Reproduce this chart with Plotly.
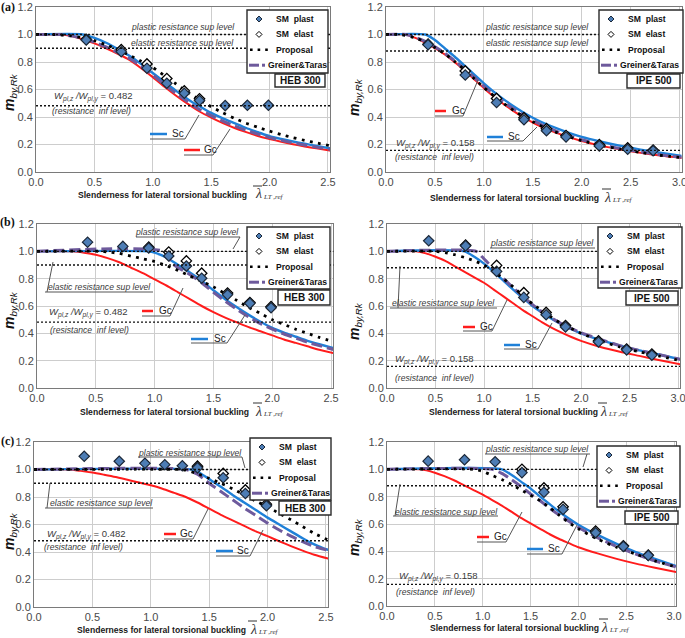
import plotly.graph_objects as go

# ======================= DATA =======================
# x positions of the SM (shell model) results
HEB_X = [0.43, 0.73, 0.95, 1.12, 1.27, 1.40, 1.62, 1.81, 1.99]
IPE_X = [0.43, 0.81, 1.13, 1.41, 1.64, 1.84, 2.18, 2.47, 2.73]

A_HEB_PLAST = [0.96, 0.875, 0.755, 0.645, 0.573, 0.52, 0.483, 0.485, 0.485]
A_HEB_ELAST = [0.965, 0.89, 0.786, 0.68, 0.59, 0.532, None, None, None]
A_IPE_PLAST = [0.925, 0.705, 0.505, 0.38, 0.30, 0.255, 0.19, 0.165, 0.155]
A_IPE_ELAST = [0.93, 0.735, 0.535, 0.395, 0.315, 0.265, 0.20, 0.175, 0.16]
B_HEB_PLAST = [1.067, 1.036, 1.024, 0.966, 0.892, 0.803, 0.683, 0.619, 0.587]
B_HEB_ELAST = [None, None, 1.03, 0.995, 0.93, 0.84, 0.695, 0.625, 0.595]
B_IPE_PLAST = [1.077, 1.04, 0.853, 0.663, 0.536, 0.447, 0.337, 0.279, 0.24]
B_IPE_ELAST = [None, 1.045, 0.897, 0.697, 0.553, 0.457, 0.344, 0.285, 0.248]
C_HEB_PLAST = [1.096, 1.06, 1.045, 1.035, 1.027, 1.012, 0.94, 0.825, 0.736]
C_HEB_ELAST = [None, None, None, None, None, 1.024, 0.971, 0.851, 0.748]
C_IPE_PLAST = [1.06, 1.07, 1.055, 0.976, 0.833, 0.707, 0.536, 0.436, 0.37]
C_IPE_ELAST = [None, None, None, 1.0, 0.864, 0.726, 0.548, 0.44, 0.372]

# ---- row (a) HEB 300
A_HEB_SC_X = [0, 0.4, 0.5, 0.6, 0.7, 0.8, 0.9, 1.0, 1.1, 1.2, 1.3, 1.4, 1.5, 1.6, 1.7, 1.8, 1.9, 2.0, 2.1, 2.2, 2.3, 2.4, 2.55]
A_HEB_SC_Y = [1.0, 1.0, 0.975, 0.94, 0.895, 0.845, 0.785, 0.72, 0.655, 0.59, 0.53, 0.478, 0.43, 0.39, 0.355, 0.32, 0.29, 0.26, 0.24, 0.222, 0.206, 0.19, 0.168]
A_HEB_GC_X = [0, 0.2, 0.3, 0.4, 0.5, 0.6, 0.7, 0.8, 0.9, 1.0, 1.1, 1.2, 1.3, 1.4, 1.5, 1.6, 1.7, 1.8, 1.9, 2.0, 2.1, 2.2, 2.3, 2.4, 2.55]
A_HEB_GC_Y = [1.0, 1.0, 0.99, 0.965, 0.935, 0.9, 0.86, 0.815, 0.755, 0.69, 0.62, 0.555, 0.495, 0.44, 0.395, 0.355, 0.32, 0.29, 0.262, 0.24, 0.22, 0.202, 0.186, 0.172, 0.152]
A_HEB_GT_X = A_HEB_GC_X
A_HEB_GT_Y = [1.0, 1.0, 0.99, 0.97, 0.945, 0.91, 0.87, 0.825, 0.77, 0.705, 0.635, 0.57, 0.51, 0.455, 0.41, 0.37, 0.335, 0.303, 0.275, 0.25, 0.23, 0.212, 0.196, 0.181, 0.16]
A_HEB_PR_X = [0, 0.15, 0.3, 0.4, 0.5, 0.6, 0.7, 0.8, 0.9, 1.0, 1.1, 1.2, 1.3, 1.4, 1.5, 1.6, 1.7, 1.8, 1.9, 2.0, 2.1, 2.2, 2.3, 2.4, 2.55]
A_HEB_PR_Y = [1.0, 1.0, 0.99, 0.975, 0.955, 0.925, 0.89, 0.85, 0.805, 0.76, 0.7, 0.64, 0.58, 0.525, 0.475, 0.43, 0.39, 0.355, 0.325, 0.297, 0.272, 0.25, 0.23, 0.212, 0.185]

# ---- row (a) IPE 500
A_IPE_SC_X = [0, 0.4, 0.5, 0.6, 0.7, 0.8, 0.9, 1.0, 1.1, 1.2, 1.3, 1.4, 1.5, 1.6, 1.8, 2.0, 2.2, 2.4, 2.6, 2.8, 3.05]
A_IPE_SC_Y = [1.0, 1.0, 0.96, 0.9, 0.84, 0.775, 0.71, 0.645, 0.585, 0.53, 0.48, 0.435, 0.395, 0.36, 0.303, 0.255, 0.22, 0.19, 0.163, 0.14, 0.115]
A_IPE_GC_X = [0, 0.2, 0.3, 0.4, 0.5, 0.6, 0.7, 0.8, 0.9, 1.0, 1.1, 1.2, 1.3, 1.4, 1.5, 1.6, 1.8, 2.0, 2.2, 2.4, 2.6, 2.8, 3.05]
A_IPE_GC_Y = [1.0, 1.0, 0.975, 0.94, 0.9, 0.855, 0.8, 0.74, 0.675, 0.61, 0.55, 0.495, 0.445, 0.4, 0.36, 0.325, 0.27, 0.225, 0.19, 0.163, 0.14, 0.12, 0.1]
A_IPE_GT_X = A_IPE_GC_X
A_IPE_GT_Y = [1.0, 1.0, 0.98, 0.95, 0.91, 0.865, 0.81, 0.75, 0.69, 0.625, 0.565, 0.51, 0.46, 0.415, 0.375, 0.34, 0.28, 0.235, 0.2, 0.17, 0.146, 0.126, 0.105]
A_IPE_PR_X = [0, 0.15, 0.3, 0.4, 0.5, 0.6, 0.7, 0.8, 0.9, 1.0, 1.1, 1.2, 1.3, 1.4, 1.5, 1.6, 1.8, 2.0, 2.2, 2.4, 2.6, 2.8, 3.05]
A_IPE_PR_Y = [1.0, 1.0, 0.975, 0.945, 0.905, 0.86, 0.805, 0.745, 0.68, 0.615, 0.555, 0.5, 0.45, 0.405, 0.365, 0.33, 0.272, 0.228, 0.193, 0.165, 0.142, 0.122, 0.102]

# ---- row (b) HEB 300
B_HEB_SC_X = [0, 0.95, 1.0, 1.1, 1.2, 1.3, 1.4, 1.5, 1.6, 1.7, 1.8, 1.9, 2.0, 2.1, 2.2, 2.3, 2.4, 2.55]
B_HEB_SC_Y = [1.0, 1.0, 0.99, 0.955, 0.9, 0.845, 0.785, 0.715, 0.65, 0.59, 0.535, 0.485, 0.44, 0.405, 0.375, 0.345, 0.32, 0.285]
B_HEB_GC_X = [0, 0.3, 0.4, 0.5, 0.6, 0.7, 0.8, 0.9, 1.0, 1.1, 1.2, 1.3, 1.4, 1.5, 1.6, 1.7, 1.8, 1.9, 2.0, 2.1, 2.2, 2.3, 2.4, 2.55]
B_HEB_GC_Y = [1.0, 1.0, 0.99, 0.975, 0.95, 0.92, 0.88, 0.84, 0.795, 0.75, 0.7, 0.65, 0.6, 0.555, 0.515, 0.48, 0.445, 0.415, 0.385, 0.355, 0.33, 0.305, 0.28, 0.25]
B_HEB_GT_X = [0, 1.08, 1.15, 1.2, 1.3, 1.4, 1.5, 1.6, 1.7, 1.8, 1.9, 2.0, 2.1, 2.2, 2.3, 2.4, 2.55]
B_HEB_GT_Y = [1.0, 1.0, 0.91, 0.88, 0.83, 0.77, 0.7, 0.635, 0.575, 0.52, 0.47, 0.43, 0.395, 0.365, 0.335, 0.31, 0.275]
B_HEB_PR_X = [0, 0.55, 0.6, 0.7, 0.8, 0.9, 1.0, 1.1, 1.2, 1.3, 1.4, 1.5, 1.6, 1.7, 1.8, 1.9, 2.0, 2.1, 2.2, 2.3, 2.4, 2.55]
B_HEB_PR_Y = [1.0, 1.0, 0.995, 0.985, 0.965, 0.945, 0.925, 0.895, 0.86, 0.82, 0.78, 0.74, 0.69, 0.64, 0.59, 0.545, 0.5, 0.465, 0.43, 0.4, 0.37, 0.33]

# ---- row (b) IPE 500
B_IPE_SC_X = [0, 0.8, 0.9, 1.0, 1.1, 1.2, 1.3, 1.4, 1.5, 1.6, 1.7, 1.8, 1.9, 2.0, 2.2, 2.4, 2.6, 2.8, 3.05]
B_IPE_SC_Y = [1.0, 1.0, 0.96, 0.91, 0.85, 0.785, 0.72, 0.66, 0.6, 0.55, 0.505, 0.465, 0.43, 0.4, 0.35, 0.31, 0.275, 0.245, 0.205]
B_IPE_GC_X = [0, 0.3, 0.4, 0.5, 0.6, 0.7, 0.8, 0.9, 1.0, 1.1, 1.2, 1.3, 1.4, 1.5, 1.6, 1.7, 1.8, 1.9, 2.0, 2.2, 2.4, 2.6, 2.8, 3.05]
B_IPE_GC_Y = [1.0, 1.0, 0.985, 0.96, 0.93, 0.89, 0.85, 0.81, 0.77, 0.72, 0.67, 0.62, 0.57, 0.525, 0.48, 0.44, 0.405, 0.373, 0.345, 0.3, 0.265, 0.235, 0.205, 0.17]
B_IPE_GT_X = [0, 0.92, 0.98, 1.1, 1.2, 1.3, 1.4, 1.5, 1.6, 1.7, 1.8, 1.9, 2.0, 2.2, 2.4, 2.6, 2.8, 3.05]
B_IPE_GT_Y = [1.0, 1.0, 0.96, 0.87, 0.8, 0.735, 0.67, 0.61, 0.555, 0.51, 0.47, 0.435, 0.405, 0.355, 0.31, 0.275, 0.245, 0.205]
B_IPE_PR_X = [0, 0.5, 0.6, 0.7, 0.8, 0.9, 1.0, 1.1, 1.2, 1.3, 1.4, 1.5, 1.6, 1.7, 1.8, 1.9, 2.0, 2.2, 2.4, 2.6, 2.8, 3.05]
B_IPE_PR_Y = [1.0, 1.0, 0.99, 0.975, 0.955, 0.93, 0.9, 0.85, 0.8, 0.74, 0.675, 0.615, 0.565, 0.515, 0.47, 0.435, 0.4, 0.345, 0.3, 0.265, 0.235, 0.195]

# ---- row (c) HEB 300
C_HEB_SC_X = [0, 1.35, 1.4, 1.5, 1.6, 1.7, 1.8, 1.9, 2.0, 2.1, 2.2, 2.3, 2.4, 2.5, 2.55]
C_HEB_SC_Y = [1.0, 1.0, 0.985, 0.93, 0.875, 0.815, 0.76, 0.705, 0.65, 0.6, 0.55, 0.5, 0.455, 0.42, 0.41]
C_HEB_GC_X = [0, 0.3, 0.4, 0.5, 0.6, 0.7, 0.8, 0.9, 1.0, 1.1, 1.2, 1.3, 1.4, 1.5, 1.6, 1.7, 1.8, 1.9, 2.0, 2.1, 2.2, 2.3, 2.4, 2.55]
C_HEB_GC_Y = [1.0, 1.0, 0.99, 0.978, 0.962, 0.945, 0.925, 0.905, 0.885, 0.86, 0.83, 0.8, 0.76, 0.715, 0.67, 0.63, 0.59, 0.55, 0.515, 0.478, 0.443, 0.41, 0.38, 0.345]
C_HEB_GT_X = [0, 1.3, 1.4, 1.5, 1.6, 1.7, 1.8, 1.9, 2.0, 2.1, 2.2, 2.3, 2.4, 2.55]
C_HEB_GT_Y = [1.0, 1.0, 0.965, 0.9, 0.84, 0.78, 0.72, 0.665, 0.61, 0.56, 0.515, 0.475, 0.44, 0.405]
C_HEB_PR_X = [0, 1.25, 1.3, 1.4, 1.5, 1.6, 1.7, 1.8, 1.9, 2.0, 2.1, 2.2, 2.3, 2.4, 2.55]
C_HEB_PR_Y = [1.0, 1.0, 0.995, 0.97, 0.935, 0.9, 0.86, 0.815, 0.77, 0.73, 0.68, 0.635, 0.585, 0.535, 0.475]

# ---- row (c) IPE 500
C_IPE_SC_X = [0, 1.2, 1.3, 1.4, 1.5, 1.6, 1.7, 1.8, 1.9, 2.0, 2.2, 2.4, 2.6, 2.8, 3.05]
C_IPE_SC_Y = [1.0, 1.0, 0.96, 0.91, 0.86, 0.8, 0.745, 0.69, 0.64, 0.595, 0.52, 0.455, 0.395, 0.345, 0.285]
C_IPE_GC_X = [0, 0.35, 0.5, 0.6, 0.7, 0.8, 0.9, 1.0, 1.1, 1.2, 1.3, 1.4, 1.5, 1.6, 1.7, 1.8, 1.9, 2.0, 2.2, 2.4, 2.6, 2.8, 3.05]
C_IPE_GC_Y = [1.0, 1.0, 0.975, 0.95, 0.92, 0.885, 0.85, 0.815, 0.775, 0.735, 0.69, 0.645, 0.605, 0.565, 0.525, 0.49, 0.46, 0.43, 0.385, 0.345, 0.31, 0.28, 0.245]
C_IPE_GT_X = [0, 1.1, 1.2, 1.3, 1.4, 1.5, 1.6, 1.7, 1.8, 1.9, 2.0, 2.2, 2.4, 2.6, 2.8, 3.05]
C_IPE_GT_Y = [1.0, 1.0, 0.97, 0.925, 0.875, 0.82, 0.77, 0.715, 0.665, 0.62, 0.575, 0.5, 0.435, 0.38, 0.33, 0.28]
C_IPE_PR_X = [0, 0.9, 1.0, 1.1, 1.2, 1.3, 1.4, 1.5, 1.6, 1.7, 1.8, 1.9, 2.0, 2.2, 2.4, 2.6, 2.8, 3.05]
C_IPE_PR_Y = [1.0, 1.0, 0.985, 0.955, 0.925, 0.89, 0.85, 0.81, 0.77, 0.72, 0.665, 0.61, 0.565, 0.49, 0.43, 0.38, 0.33, 0.28]

# resistance levels
HEB_LEVELS = dict(plastic=1.0, elastic=0.9, inf=0.482)
IPE_LEVELS = dict(plastic=1.0, elastic=0.88, inf=0.158)

X_TICKS_HEB = [0.0, 0.5, 1.0, 1.5, 2.0, 2.5]
X_TICKS_IPE = [0.0, 0.5, 1.0, 1.5, 2.0, 2.5, 3.0]
Y_TICKS = [0.0, 0.2, 0.4, 0.6, 0.8, 1.0, 1.2]

LEGEND_NAMES = ["SM\u00a0\u00a0plast", "SM\u00a0\u00a0elast", "Proposal", "Greiner&Taras"]

# ======================= STYLE / LAYOUT =======================
W, H = 685, 638
def PX(x): return x / W
def PY(y): return 1 - y / H

SANS = "Liberation Sans, Arial, sans-serif"
SERIF = "Liberation Serif, Times New Roman, serif"

C_SC = "#1f80d8"
C_GC = "#ff1c1c"
C_GT = "#6e5a9c"
C_PLAST = "#4d7db5"
C_EDGE = "#1c2838"
C_TXT = "#3a3a3a"
C_LEAD = "#555555"

panels = [
    dict(dx=(36, 330.3), dy=(7, 172), xr=2.52, ticks=X_TICKS_HEB, lev=HEB_LEVELS, label="HEB 300",
         sc=(A_HEB_SC_X, A_HEB_SC_Y), gc=(A_HEB_GC_X, A_HEB_GC_Y), gt=(A_HEB_GT_X, A_HEB_GT_Y), pr=(A_HEB_PR_X, A_HEB_PR_Y),
         smx=HEB_X, plast=A_HEB_PLAST, elast=A_HEB_ELAST,
         plastic=(183, 27, None, None), elastic=(183, 43, None, None),
         w=(52, 97, 50, 111),
         sclab=(150, 167, 134, 170, 185, 139, (199, 115)), gclab=(184, 200, 150, 202, 213, 155, (230, 129)),
         leg=(247, 10, 328, 73), lab=(275, 74, 325, 87),
         mlab=(10, 92), xt=(162, 195, 253), tag=("(a)", 8, 7)),
    dict(dx=(386, 681.5), dy=(7, 172), xr=3.02, ticks=X_TICKS_IPE, lev=IPE_LEVELS, label="IPE 500",
         sc=(A_IPE_SC_X, A_IPE_SC_Y), gc=(A_IPE_GC_X, A_IPE_GC_Y), gt=(A_IPE_GT_X, A_IPE_GT_Y), pr=(A_IPE_PR_X, A_IPE_PR_Y),
         smx=IPE_X, plast=A_IPE_PLAST, elast=A_IPE_ELAST,
         plastic=(537, 27, None, None), elastic=(537, 43, None, None),
         w=(394, 143, 393, 157),
         sclab=(487, 503, 137, 506, 523, 141, (537, 127)), gclab=(435, 446, 111, 450, 463, 116, (478, 80)),
         leg=(599, 10, 683, 73), lab=(627, 74, 680, 88),
         mlab=(355, 97), xt=(514, 198, 602), tag=None),
    dict(dx=(37, 333.4), dy=(224, 388), xr=2.52, ticks=X_TICKS_HEB, lev=HEB_LEVELS, label="HEB 300",
         sc=(B_HEB_SC_X, B_HEB_SC_Y), gc=(B_HEB_GC_X, B_HEB_GC_Y), gt=(B_HEB_GT_X, B_HEB_GT_Y), pr=(B_HEB_PR_X, B_HEB_PR_Y),
         smx=HEB_X, plast=B_HEB_PLAST, elast=B_HEB_ELAST,
         plastic=(187, 232, (136, 240, 237), ((240, 237), (233, 249))),
         elastic=(100, 287, (45, 153, 292), ((47, 292), (53, 262))),
         w=(47, 312, 48, 330),
         sclab=(191, 208, 339, 212, 227, 343, (245, 315)), gclab=(142, 153, 311, 157, 170, 316, (183, 288)),
         leg=(247, 227, 330, 289), lab=(278, 290, 330, 305),
         mlab=(10, 310), xt=(164, 412, 253), tag=("(b)", 8, 222)),
    dict(dx=(387, 680), dy=(224, 388), xr=3.02, ticks=X_TICKS_IPE, lev=IPE_LEVELS, label="IPE 500",
         sc=(B_IPE_SC_X, B_IPE_SC_Y), gc=(B_IPE_GC_X, B_IPE_GC_Y), gt=(B_IPE_GT_X, B_IPE_GT_Y), pr=(B_IPE_PR_X, B_IPE_PR_Y),
         smx=IPE_X, plast=B_IPE_PLAST, elast=B_IPE_ELAST,
         plastic=(542, 243, (490, 595, 248), None),
         elastic=(443, 303, (390, 497, 308), ((398, 308), (400, 266))),
         w=(393, 360, 393, 378),
         sclab=(504, 520, 345, 523, 538, 349, (552, 323)), gclab=(463, 475, 327, 478, 492, 331, (507, 300)),
         leg=(598, 227, 682, 288), lab=(626, 291, 678, 305),
         mlab=(355, 321), xt=(513, 412, 598), tag=None),
    dict(dx=(34, 328.3), dy=(442, 607), xr=2.52, ticks=X_TICKS_HEB, lev=HEB_LEVELS, label="HEB 300",
         sc=(C_HEB_SC_X, C_HEB_SC_Y), gc=(C_HEB_GC_X, C_HEB_GC_Y), gt=(C_HEB_GT_X, C_HEB_GT_Y), pr=(C_HEB_PR_X, C_HEB_PR_Y),
         smx=HEB_X, plast=C_HEB_PLAST, elast=C_HEB_ELAST,
         plastic=(190, 453, (138, 242, 457), ((242, 457), (245, 468))),
         elastic=(101, 503, (45, 153, 508), ((47, 508), (50, 483))),
         w=(45, 534, 42, 547),
         sclab=(216, 233, 551, 235, 250, 556, (263, 530)), gclab=(164, 176, 534, 178, 193, 539, (208, 509)),
         leg=(250, 438, 331, 500), lab=(279, 501, 331, 515),
         mlab=(10, 531), xt=(161, 630, 248), tag=("(c)", 8, 441)),
    dict(dx=(387, 676), dy=(442, 606), xr=3.02, ticks=X_TICKS_IPE, lev=IPE_LEVELS, label="IPE 500",
         sc=(C_IPE_SC_X, C_IPE_SC_Y), gc=(C_IPE_GC_X, C_IPE_GC_Y), gt=(C_IPE_GT_X, C_IPE_GT_Y), pr=(C_IPE_PR_X, C_IPE_PR_Y),
         smx=IPE_X, plast=C_IPE_PLAST, elast=C_IPE_ELAST,
         plastic=(537, 449, (485, 590, 454), ((587, 454), (583, 467))),
         elastic=(446, 512, (393, 498, 516), ((395, 516), (400, 484))),
         w=(397, 576, 394, 592),
         sclab=(527, 543, 549, 546, 562, 554, (577, 525)), gclab=(477, 489, 537, 492, 506, 542, (522, 512)),
         leg=(597, 446, 680, 507), lab=(625, 511, 678, 524),
         mlab=(355, 537), xt=(514, 628, 599), tag=None),
]

fig = go.Figure()
shapes, annots = [], []
layout = {}

def seg(x0, y0, x1, y1, color=C_LEAD, width=1, dash=None):
    ln = dict(color=color, width=width)
    if dash:
        ln["dash"] = dash
    shapes.append(dict(type="line", xref="paper", yref="paper",
                       x0=PX(x0), y0=PY(y0), x1=PX(x1), y1=PY(y1), line=ln, layer="above"))

def text(x, y, t, size=10, color=C_TXT, family=SANS, xanchor="left", angle=0):
    annots.append(dict(xref="paper", yref="paper", x=PX(x), y=PY(y), text=t, showarrow=False,
                       xanchor=xanchor, yanchor="middle", textangle=angle,
                       font=dict(size=size, color=color, family=family)))

def diamond(cx, cy, r):
    return (f"M {PX(cx - r)},{PY(cy)} L {PX(cx)},{PY(cy - r)} "
            f"L {PX(cx + r)},{PY(cy)} L {PX(cx)},{PY(cy + r)} Z")

for i, p in enumerate(panels, start=1):
    s = "" if i == 1 else str(i)
    xa, ya = "x" + s, "y" + s
    common = dict(showgrid=True, gridcolor="#cdcdcd", gridwidth=1, zeroline=False, automargin=False,
                  showline=True, linecolor="#7a7a7a", linewidth=1, mirror=True, ticks="",
                  ticklabeloverflow="allow",
                  tickfont=dict(size=11, color="#4a4a4a", family=SANS), fixedrange=True)
    layout["xaxis" + s] = dict(domain=[PX(p["dx"][0]), PX(p["dx"][1])], range=[0, p["xr"]], anchor=ya,
                               tickvals=p["ticks"], ticktext=[f"{v:.1f}" for v in p["ticks"]], **common)
    layout["yaxis" + s] = dict(domain=[PY(p["dy"][1]), PY(p["dy"][0])], range=[0, 1.2], anchor=xa,
                               tickvals=Y_TICKS, ticktext=[f"{v:.1f}" for v in Y_TICKS], **common)

    # resistance level lines
    for key in ("plastic", "elastic", "inf"):
        shapes.append(dict(type="line", xref=xa + " domain", yref=ya, x0=0, x1=1,
                           y0=p["lev"][key], y1=p["lev"][key],
                           line=dict(color="#111111", width=1.3, dash="2px,2px"), layer="above"))

    # curves
    fig.add_trace(go.Scatter(x=p["gc"][0], y=p["gc"][1], mode="lines", xaxis=xa, yaxis=ya, showlegend=False,
                             line=dict(color=C_GC, width=2, shape="spline", smoothing=0.6)))
    fig.add_trace(go.Scatter(x=p["sc"][0], y=p["sc"][1], mode="lines", xaxis=xa, yaxis=ya, showlegend=False,
                             line=dict(color=C_SC, width=2.4, shape="spline", smoothing=0.6)))
    fig.add_trace(go.Scatter(x=p["gt"][0], y=p["gt"][1], mode="lines", xaxis=xa, yaxis=ya, showlegend=False,
                             line=dict(color=C_GT, width=3, dash="11px,5px", shape="spline", smoothing=0.6)))
    fig.add_trace(go.Scatter(x=p["pr"][0], y=p["pr"][1], mode="lines", xaxis=xa, yaxis=ya, showlegend=False,
                             line=dict(color="#000000", width=2.8, dash="2.8px,5.5px", shape="spline", smoothing=0.6)))
    fig.add_trace(go.Scatter(x=p["smx"], y=p["elast"], mode="markers", xaxis=xa, yaxis=ya, showlegend=False,
                             marker=dict(symbol="diamond", size=8, color="white",
                                         line=dict(color="#000000", width=1.3))))
    fig.add_trace(go.Scatter(x=p["smx"], y=p["plast"], mode="markers", xaxis=xa, yaxis=ya, showlegend=False,
                             marker=dict(symbol="diamond", size=8, color=C_PLAST,
                                         line=dict(color=C_EDGE, width=1.2))))

    # level labels
    for key, t in (("plastic", "plastic resistance sup level"), ("elastic", "elastic resistance sup level")):
        cx, cy, ul, ld = p[key]
        text(cx, cy, f"<i>{t}</i>", size=8.6, xanchor="center")
        if ul:
            seg(ul[0], ul[2], ul[1], ul[2])
        if ld:
            seg(ld[0][0], ld[0][1], ld[1][0], ld[1][1])
    wx, wy, rx, ry = p["w"]
    val = f"{p['lev']['inf']:.3f}"
    text(wx, wy, f"<i>W</i><sub><i>pl,z</i></sub><i> /W</i><sub><i>pl,y</i></sub> = {val}", size=9.5)
    text(rx, ry, "<i>(resistance\u00a0\u00a0inf level)</i>", size=8.6)

    # Sc / Gc labels
    for lab, col, name in ((p["sclab"], C_SC, "Sc"), (p["gclab"], C_GC, "Gc")):
        x0, x1, yy, tx, ux1, uy, end = lab
        seg(x0, yy, x1, yy, color=col, width=2.5)
        text(tx, yy - 1, name, size=10, color="#222222")
        seg(x0, uy, ux1, uy)
        seg(ux1, uy, end[0], end[1])

    # legend box
    L, T, R, B = p["leg"]
    shapes.append(dict(type="rect", xref="paper", yref="paper", x0=PX(L), y0=PY(B), x1=PX(R), y1=PY(T),
                       line=dict(color="#2a2a2a", width=1.4), fillcolor="white", layer="above"))
    rows = [T + 9 + 15.4 * k for k in range(4)]
    shapes.append(dict(type="path", xref="paper", yref="paper", path=diamond(L + 12, rows[0], 3),
                       fillcolor=C_PLAST, line=dict(color=C_EDGE, width=1), layer="above"))
    shapes.append(dict(type="path", xref="paper", yref="paper", path=diamond(L + 12, rows[1], 3),
                       fillcolor="white", line=dict(color="#000000", width=1), layer="above"))
    seg(L + 3, rows[2], L + 22, rows[2], color="#000000", width=2.6, dash="2.6px,5px")
    seg(L + 2, rows[3], L + 12, rows[3], color=C_GT, width=3)
    seg(L + 15, rows[3], L + 18, rows[3], color=C_GT, width=3)
    for k, nm in enumerate(LEGEND_NAMES):
        text(L + (27 if k < 3 else 19), rows[k], f"<b>{nm}</b>", size=8.6, color="#111111")

    # section label box
    L2, T2, R2, B2 = p["lab"]
    shapes.append(dict(type="rect", xref="paper", yref="paper", x0=PX(L2), y0=PY(B2), x1=PX(R2), y1=PY(T2),
                       line=dict(color="#2a2a2a", width=1.4), fillcolor="white", layer="above"))
    text((L2 + R2) / 2, (T2 + B2) / 2, f"<b>{p['label']}</b>", size=10, color="#111111", xanchor="center")

    # axis titles
    mx, my = p["mlab"]
    text(mx, my, "<b><i>m</i></b><sub><i>by,Rk</i></sub>", size=14, color="#111111", family=SANS,
         xanchor="center", angle=-90)
    cx, cy, lx = p["xt"]
    text(cx, cy, "<b>Slenderness for lateral torsional buckling</b>", size=8.6, color="#1a1a1a", xanchor="center")
    text(lx, cy - 1, "<i>λ</i>", size=14, color="#333333", family=SERIF)
    seg(lx, cy - 9, lx + 9, cy - 9, color="#333333", width=1)
    text(lx + 8, cy + 2, "<i>LT ,ref</i>", size=7, color="#333333", family=SERIF)

    if p["tag"]:
        t, tx, ty = p["tag"]
        text(tx, ty, f"<b>{t}</b>", size=12, color="#111111", family=SERIF, xanchor="center")

layout.update(width=W, height=H, margin=dict(l=0, r=0, t=0, b=0, autoexpand=False), paper_bgcolor="white",
              plot_bgcolor="white", showlegend=False, shapes=shapes, annotations=annots)
fig.update_layout(**layout)
fig.write_html("out.html", config={"displayModeBar": False},
               post_script="document.body.style.margin='0px';document.body.style.overflow='hidden';")
